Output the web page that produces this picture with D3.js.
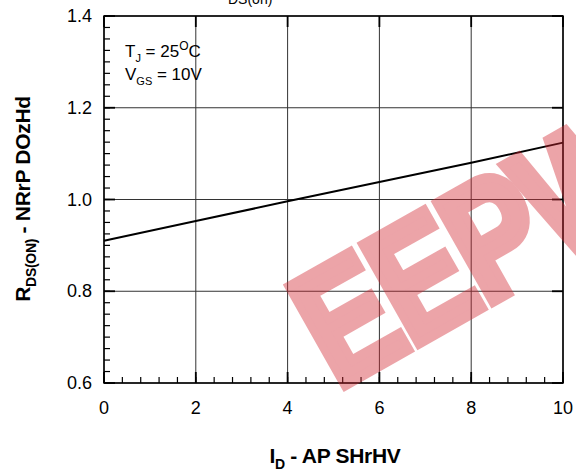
<!DOCTYPE html>
<html>
<head>
<meta charset="utf-8">
<script src="https://cdn.jsdelivr.net/npm/d3@7"></script>
<style>
  body { margin: 0; background: #fff; }
  svg text { font-family: "Liberation Sans", Arial, sans-serif; }
</style>
</head>
<body>
<div id="chart"></div>
<script>
// data
var currentA = [0, 2, 4, 6, 8, 10];
var rdsNorm = [0.910, 0.953, 0.996, 1.038, 1.080, 1.124];
var xTicks = [0, 2, 4, 6, 8, 10];
var yTicks = [0.6, 0.8, 1.0, 1.2, 1.4];

var W = 576, H = 475;
var margin = { top: 16, right: 13, bottom: 92, left: 104 },
    width = W - margin.left - margin.right,
    height = H - margin.top - margin.bottom;

var svg = d3.select("#chart").append("svg")
    .attr("width", W).attr("height", H);

var g = svg.append("g")
    .attr("transform", "translate(" + margin.left + "," + margin.top + ")");

var x = d3.scaleLinear().domain([0, 10]).range([0, width]);
var y = d3.scaleLinear().domain([0.6, 1.4]).range([height, 0]);

// grid lines
g.append("g").selectAll("line").data(xTicks).enter().append("line")
    .attr("x1", function (d) { return x(d); }).attr("x2", function (d) { return x(d); })
    .attr("y1", 0).attr("y2", height)
    .attr("stroke", "#333").attr("stroke-width", 1);
g.append("g").selectAll("line").data(yTicks).enter().append("line")
    .attr("y1", function (d) { return y(d); }).attr("y2", function (d) { return y(d); })
    .attr("x1", 0).attr("x2", width)
    .attr("stroke", "#333").attr("stroke-width", 1);

// minor ticks (inside)
var xMinor = d3.range(0, 10.001, 0.4);
var yMinor = d3.range(0.6, 1.4001, 0.025);
g.append("g").selectAll("line").data(xMinor).enter().append("line")
    .attr("x1", function (d) { return x(d); }).attr("x2", function (d) { return x(d); })
    .attr("y1", height).attr("y2", height - 6)
    .attr("stroke", "#000").attr("stroke-width", 1.2);
g.append("g").selectAll("line").data(yMinor).enter().append("line")
    .attr("y1", function (d) { return y(d); }).attr("y2", function (d) { return y(d); })
    .attr("x1", 0).attr("x2", 6)
    .attr("stroke", "#000").attr("stroke-width", 1.2);

// major ticks, darker
g.append("g").selectAll("line").data(xTicks).enter().append("line")
    .attr("x1", function (d) { return x(d); }).attr("x2", function (d) { return x(d); })
    .attr("y1", height).attr("y2", height - 11)
    .attr("stroke", "#000").attr("stroke-width", 1.8);
g.append("g").selectAll("line").data(xTicks).enter().append("line")
    .attr("x1", function (d) { return x(d); }).attr("x2", function (d) { return x(d); })
    .attr("y1", 0).attr("y2", 11)
    .attr("stroke", "#000").attr("stroke-width", 1.8);
g.append("g").selectAll("line").data(yTicks).enter().append("line")
    .attr("y1", function (d) { return y(d); }).attr("y2", function (d) { return y(d); })
    .attr("x1", 0).attr("x2", 11)
    .attr("stroke", "#000").attr("stroke-width", 1.8);
g.append("g").selectAll("line").data(yTicks).enter().append("line")
    .attr("y1", function (d) { return y(d); }).attr("y2", function (d) { return y(d); })
    .attr("x1", width - 11).attr("x2", width)
    .attr("stroke", "#000").attr("stroke-width", 1.8);

// frame
g.append("rect").attr("width", width).attr("height", height)
    .attr("fill", "none").attr("stroke", "#000").attr("stroke-width", 1.5);

// tick labels
g.selectAll(".xl").data(xTicks).enter().append("text")
    .attr("x", function (d) { return x(d); }).attr("y", height + 31)
    .attr("text-anchor", "middle").attr("font-size", 18).attr("fill", "#000")
    .text(function (d) { return d; });
g.selectAll(".yl").data(yTicks).enter().append("text")
    .attr("x", -12).attr("y", function (d) { return y(d) + 6; })
    .attr("text-anchor", "end").attr("font-size", 18).attr("fill", "#000")
    .text(function (d) { return d3.format(".1f")(d); });

// curve
var line = d3.line()
    .x(function (d, i) { return x(currentA[i]); })
    .y(function (d) { return y(d); });
g.append("path").datum(rdsNorm)
    .attr("d", line)
    .attr("fill", "none").attr("stroke", "#000").attr("stroke-width", 2);

// annotation
var t1 = g.append("text").attr("x", 21).attr("y", 41).attr("font-size", 17);
t1.append("tspan").text("T");
t1.append("tspan").attr("font-size", 11).attr("dy", 5).text("J");
t1.append("tspan").attr("dy", -5).text(" = 25");
t1.append("tspan").attr("font-size", 12).attr("dy", -7).text("O");
t1.append("tspan").attr("dy", 7).text("C");
var t2 = g.append("text").attr("x", 21).attr("y", 64).attr("font-size", 17);
t2.append("tspan").text("V");
t2.append("tspan").attr("font-size", 11).attr("dy", 5).text("GS");
t2.append("tspan").attr("dy", -5).text(" = 10V");

// top title fragment, cut by the page edge as in the source
svg.append("text").attr("x", 228).attr("y", 4).attr("font-size", 14)
    .text("DS(on)");

// axis titles
var xt = svg.append("text").attr("x", 335).attr("y", 463)
    .attr("text-anchor", "middle").attr("font-size", 21).attr("font-weight", "bold")
    .attr("letter-spacing", -0.3);
xt.append("tspan").text("I");
xt.append("tspan").attr("font-size", 14).attr("dy", 6).text("D");
xt.append("tspan").attr("dy", -6).text(" - AP SHrHV");

var yt = svg.append("text")
    .attr("transform", "translate(30,199) rotate(-90)")
    .attr("text-anchor", "middle").attr("font-size", 21).attr("font-weight", "bold")
    .attr("letter-spacing", -0.3);
yt.append("tspan").text("R");
yt.append("tspan").attr("font-size", 14).attr("dy", 6).text("DS(ON)");
yt.append("tspan").attr("dy", -6).text(" - NRrP DOzHd");

// watermark
var wm = svg.append("g").attr("opacity", 0.42);
wm.append("text")
    .attr("transform", "translate(337,390) rotate(-29.5) scale(0.8,1)")
    .attr("font-size", 165).attr("font-weight", "bold")
    .attr("font-family", "DejaVu Sans")
    .attr("letter-spacing", -4)
    .attr("fill", "rgb(210,40,50)")
    .attr("stroke", "rgb(210,40,50)").attr("stroke-width", 10)
    .attr("stroke-linejoin", "miter")
    .text("EEPW");
</script>
</body>
</html>
